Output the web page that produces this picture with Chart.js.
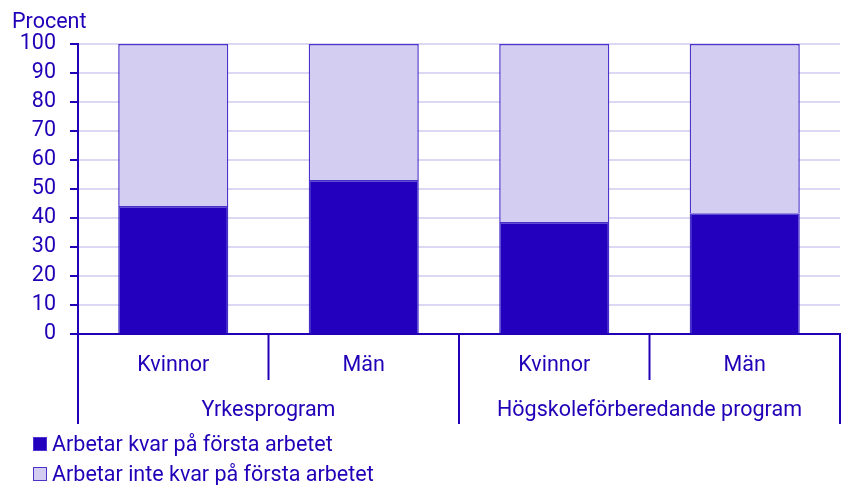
<!DOCTYPE html>
<html>
<head>
<meta charset="utf-8">
<script src="https://cdn.jsdelivr.net/npm/chart.js@4/dist/chart.umd.min.js"></script>
<style>
  html, body { margin: 0; padding: 0; background: #fff; }
  #wrap { width: 842px; height: 485px; position: relative; }
</style>
</head>
<body>
<div id="wrap"><canvas id="chart"></canvas></div>
<script>
const categories = ['Kvinnor', 'Män', 'Kvinnor', 'Män'];
const groups = ['Yrkesprogram', 'Högskoleförberedande program'];
const groupSize = 2;
const kvar = [44.1, 53.1, 38.6, 41.6];
const inteKvar = [55.9, 46.9, 61.4, 58.4];
const seriesNames = ['Arbetar kvar på första arbetet', 'Arbetar inte kvar på första arbetet'];

const TEXT = '#2100b8';
const DARK = '#2200bd';
const LIGHT = '#d3cef1';
const FONT = 'Roboto, sans-serif';
const SIZE = 21.5;

const extras = {
  id: 'extras',
  afterDraw(chart) {
    const ctx = chart.ctx;
    const x = chart.scales.x;
    const area = chart.chartArea;
    const step = x.getPixelForValue(1) - x.getPixelForValue(0);
    const y0 = area.bottom;
    ctx.save();
    ctx.strokeStyle = TEXT;
    ctx.lineWidth = 2;
    ctx.fillStyle = TEXT;
    ctx.font = SIZE + 'px ' + FONT;
    ctx.textAlign = 'center';
    ctx.textBaseline = 'middle';
    // category separators and labels
    for (let i = 0; i <= categories.length; i++) {
      const px = Math.min(x.getPixelForValue(i) - step / 2, chart.width - 1.5);
      const long = i % groupSize === 0;
      ctx.beginPath();
      ctx.moveTo(px, y0);
      ctx.lineTo(px, long ? y0 + 90 : y0 + 46);
      ctx.stroke();
    }
    categories.forEach((c, i) => {
      ctx.fillText(c, x.getPixelForValue(i), y0 + 32);
    });
    groups.forEach((g, j) => {
      const a = x.getPixelForValue(j * groupSize);
      const b = x.getPixelForValue(j * groupSize + groupSize - 1);
      ctx.fillText(g, (a + b) / 2, y0 + 77);
    });
    // y title
    ctx.textAlign = 'left';
    ctx.textBaseline = 'alphabetic';
    ctx.fillText('Procent', 12, 28);
    // legend
    const colors = [DARK, LIGHT];
    seriesNames.forEach((n, i) => {
      const ly = 444 + i * 30;
      ctx.fillStyle = colors[i];
      ctx.fillRect(33, ly - 7, 14, 14);
      ctx.strokeStyle = '#4b33cc';
      ctx.lineWidth = 1;
      ctx.strokeRect(33.5, ly - 6.5, 13, 13);
      ctx.fillStyle = TEXT;
      ctx.textBaseline = 'middle';
      ctx.fillText(n, 52, ly + 2);
    });
    ctx.restore();
  }
};

new Chart(document.getElementById('chart'), {
  type: 'bar',
  data: {
    labels: categories,
    datasets: [
      { label: seriesNames[0], data: kvar, backgroundColor: DARK, borderColor: '#4530cc', borderWidth: 1.5 },
      { label: seriesNames[1], data: inteKvar, backgroundColor: LIGHT, borderColor: '#4b33cc', borderWidth: 1.5 }
    ]
  },
  options: {
    responsive: true,
    maintainAspectRatio: false,
    animation: false,
    layout: { padding: { top: 44, right: 2, left: 0, bottom: 0 } },
    datasets: { bar: { barPercentage: 0.578, categoryPercentage: 1 } },
    plugins: { legend: { display: false }, tooltip: { enabled: false } },
    scales: {
      x: {
        stacked: true,
        ticks: { display: false },
        grid: { display: false },
        border: { color: TEXT, width: 2 },
        afterFit(scale) { scale.height = 151; }
      },
      y: {
        stacked: true,
        min: 0,
        max: 100,
        ticks: { stepSize: 10, color: TEXT, font: { family: FONT, size: SIZE }, padding: 14 },
        grid: { color: '#dcd8f4', lineWidth: 2, tickColor: TEXT, tickLength: 8 },
        border: { color: TEXT, width: 2 },
        afterFit(scale) { scale.width = 78; }
      }
    }
  },
  plugins: [extras]
});
</script>
</body>
</html>
